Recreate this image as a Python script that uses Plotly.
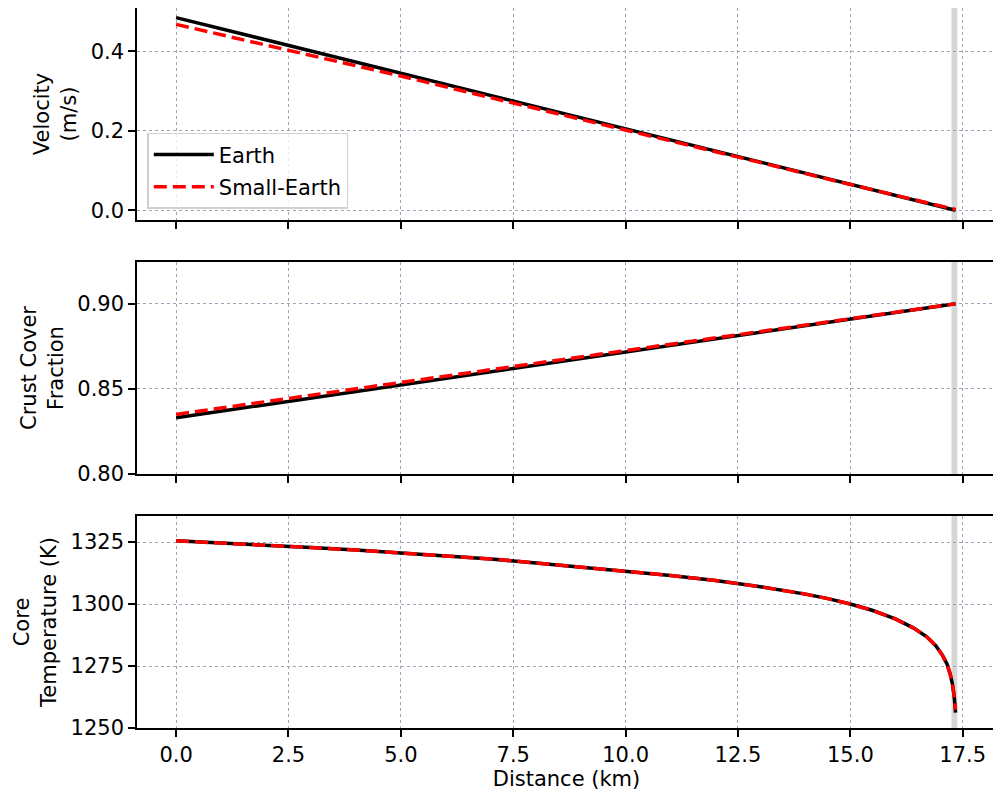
import plotly.graph_objects as go

# ---- data ----
dist_lin = [0.0, 2.5, 5.0, 7.5, 10.0, 12.5, 15.0, 17.34]
vel_earth = [0.485, 0.415, 0.345, 0.275, 0.205, 0.135, 0.066, 0.0]
vel_small = [0.468, 0.403, 0.338, 0.270, 0.203, 0.134, 0.065, 0.002]
crust_earth = [0.833, 0.8427, 0.8523, 0.862, 0.8716, 0.8813, 0.891, 0.900]
crust_small = [0.835, 0.8445, 0.854, 0.8633, 0.8725, 0.8818, 0.891, 0.900]

dist_t = [0, 1, 2, 3, 4, 5, 6, 7, 8, 9, 10, 11, 12, 13, 14, 14.5, 15, 15.5, 16,
          16.4, 16.7, 16.9, 17.05, 17.15, 17.22, 17.27, 17.31, 17.34]
temp_earth = [1325.5, 1324.7, 1323.8, 1322.8, 1321.8, 1320.7, 1319.5, 1318.2, 1316.6,
              1315.0, 1313.2, 1311.5, 1309.5, 1307.0, 1304.0, 1302.2, 1300.0, 1297.4,
              1294.0, 1290.4, 1286.8, 1283.2, 1279.3, 1275.8, 1271.8, 1267.8, 1262.8, 1256.2]
temp_small = temp_earth[:-1] + [1257.4]

band = [17.25, 17.38]
x_ticks = [0.0, 2.5, 5.0, 7.5, 10.0, 12.5, 15.0, 17.5]
x_range = [-0.87, 18.24]

FONT = "DejaVu Sans"
FS = 21
GRID = "#9aa6b8"

fig = go.Figure()

def add_pair(x, ye, ys, xa, ya, show):
    fig.add_trace(go.Scatter(x=x, y=ye, mode="lines", name="Earth",
                             line=dict(color="black", width=3.5),
                             xaxis=xa, yaxis=ya, showlegend=show, legendgroup="e"))
    fig.add_trace(go.Scatter(x=x, y=ys, mode="lines", name="Small-Earth",
                             line=dict(color="#ff0000", width=3.5, dash="13px,6px"),
                             xaxis=xa, yaxis=ya, showlegend=show, legendgroup="s"))

add_pair(dist_lin, vel_earth, vel_small, "x", "y", True)
add_pair(dist_lin, crust_earth, crust_small, "x2", "y2", False)
add_pair(dist_t, temp_earth, temp_small, "x3", "y3", False)

domains = [[0.7056, 1.0], [0.3528, 0.6472], [0.0, 0.2944]]
yranges = [[-0.0243, 0.5093], [0.80, 0.9245], [1250, 1335.5]]
ytickvals = [[0.0, 0.2, 0.4], [0.80, 0.85, 0.90], [1250, 1275, 1300, 1325]]
yticktext = [["0.0", "0.2", "0.4"], ["0.80", "0.85", "0.90"], ["1250", "1275", "1300", "1325"]]
ytitles = ["Velocity<br>(m/s)", "Crust Cover<br>Fraction", "Core<br>Temperature (K)"]

axcommon = dict(showline=True, mirror=True, linecolor="black", linewidth=1.5,
                ticks="outside", ticklen=7, tickwidth=1.5, tickcolor="black",
                showgrid=True, gridcolor=GRID, griddash="dot", gridwidth=1,
                zeroline=False, automargin=False,
                tickfont=dict(family=FONT, size=FS, color="black"))

layout = {}
for i in range(3):
    xs = "xaxis" if i == 0 else f"xaxis{i+1}"
    ys = "yaxis" if i == 0 else f"yaxis{i+1}"
    ya = "y" if i == 0 else f"y{i+1}"
    layout[xs] = dict(axcommon, domain=[0, 1], anchor=ya, range=x_range,
                      tickvals=x_ticks, ticktext=[f"{v:.1f}" for v in x_ticks],
                      showticklabels=(i == 2),
                      matches=None if i == 0 else "x")
    layout[ys] = dict(axcommon, domain=domains[i], anchor="x" if i == 0 else f"x{i+1}",
                      range=yranges[i], tickvals=ytickvals[i], ticktext=yticktext[i],
                      title=dict(text=ytitles[i], font=dict(family=FONT, size=FS, color="black"),
                                 standoff=8))
layout["xaxis3"]["title"] = dict(text="Distance (km)", font=dict(family=FONT, size=FS, color="black"),
                                 standoff=4)
fig.update_layout(**layout)

shapes = []
for i in range(3):
    xr = "x" if i == 0 else f"x{i+1}"
    yr = "y domain" if i == 0 else f"y{i+1} domain"
    shapes.append(dict(type="rect", xref=xr, yref=yr, x0=band[0], x1=band[1], y0=0, y1=1,
                       fillcolor="#d6d6d6", line=dict(width=0), layer="below"))
fig.update_layout(shapes=shapes)

# page body has an 8px margin, so the figure is shifted by 8px; compensate
fig.update_layout(
    width=993, height=786,
    margin=dict(l=129, r=5, t=0, b=66, autoexpand=False),
    plot_bgcolor="white", paper_bgcolor="white",
    font=dict(family=FONT, size=FS, color="black"),
    legend=dict(x=0.012, y=0.721, xanchor="left", yanchor="bottom",
                bgcolor="rgba(255,255,255,0.8)", bordercolor="#d0d0d0", borderwidth=1.5,
                font=dict(family=FONT, size=FS, color="black"), tracegroupgap=2,
                itemwidth=60),
)

fig.write_html("out.html")
